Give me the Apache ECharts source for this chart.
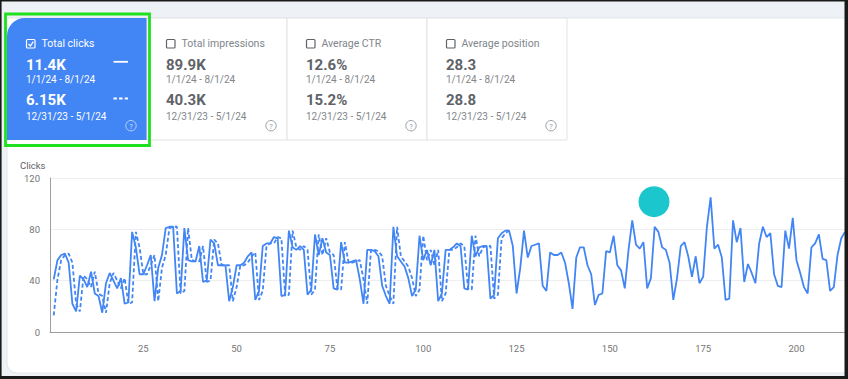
<!DOCTYPE html>
<html>
<head>
<meta charset="utf-8">
<script src="https://cdn.jsdelivr.net/npm/echarts@6/dist/echarts.min.js"></script>
<style>
html,body{margin:0;padding:0;background:#fff;}
#chart{width:848px;height:379px;}
</style>
</head>
<body>
<div id="chart"></div>
<script>
// ---- data ----
const metricNames = ['Total clicks', 'Total impressions', 'Average CTR', 'Average position'];
const currentValues = ['11.4K', '89.9K', '12.6%', '28.3'];
const previousValues = ['6.15K', '40.3K', '15.2%', '28.8'];
const currentRange = '1/1/24 - 8/1/24';
const previousRange = '12/31/23 - 5/1/24';
const yAxisName = 'Clicks';
const yTicks = [0, 40, 80, 120];
const xTicks = [25, 50, 75, 100, 125, 150, 175, 200];

// daily clicks, 1/1/24 - 8/1/24 (day 1..213)
const clicksCurrent = [
  41,56,60,61,54,22,16,44,41,35,
  47,30,28,15,38,46,40,34,42,22,
  23,78,66,45,45,52,60,24,50,60,
  81,82,82,30,32,81,56,55,55,67,
  39,40,72,69,52,52,52,24,35,52,
  52,54,59,62,25,32,67,69,69,74,
  73,28,29,79,66,64,67,64,29,33,
  76,60,73,62,60,34,33,70,54,54,
  55,56,41,22,64,64,63,59,36,28,
  22,82,59,55,51,42,28,33,75,56,
  64,52,64,24,30,64,64,66,69,67,
  34,33,75,59,66,67,67,26,29,73,
  77,79,79,67,30,50,79,58,67,68,
  69,36,32,62,60,60,62,54,38,18,
  58,66,66,52,45,21,29,30,63,62,
  75,52,48,34,64,87,68,65,70,34,
  42,82,78,66,64,54,25,42,67,70,
  59,43,59,38,43,82,105,65,68,58,
  25,26,87,70,81,39,53,46,38,69,
  82,74,77,45,36,35,79,65,89,56,
  46,35,30,66,69,76,57,56,32,35,
  60,73,78
];
// daily clicks, 12/31/23 - 5/1/24 (day 1..123)
const clicksPrevious = [
  13,41,56,60,61,54,22,16,44,41,
  35,47,30,28,15,38,46,40,34,42,
  22,23,78,66,45,45,52,60,24,50,
  60,81,82,82,30,32,81,56,55,55,
  67,39,40,72,69,52,52,52,24,35,
  52,52,54,59,62,25,32,67,69,69,
  74,73,28,29,79,66,64,67,64,29,
  33,76,60,73,62,60,34,33,70,54,
  54,55,56,41,22,64,64,63,59,36,
  28,22,82,59,55,51,42,28,33,75,
  56,64,52,64,24,30,64,64,66,69,
  67,34,33,75,59,66,67,67,26,29,
  73,77,79
];

// ---- build ----
const BLUE = '#4285f4';
const FONT = 'Roboto, "Noto Sans", sans-serif';
const g = [];

// page background
g.push({type:'rect', z:-20, silent:true, shape:{x:0,y:0,width:848,height:379}, style:{fill:'#eef2f7'}});
// main white card
g.push({type:'rect', z:-19, silent:true, shape:{x:7,y:18,width:860,height:355,r:[0,0,0,10]}, style:{fill:'#ffffff', stroke:'#e3e6ea', lineWidth:1}});

// metric cards
for (let i = 0; i < metricNames.length; i++) {
  const x0 = 7 + 140 * i;
  const sel = i === 0;
  if (sel) {
    g.push({type:'rect', z:-18, silent:true, shape:{x:x0,y:18,width:140,height:122,r:[18,0,0,0]}, style:{fill:BLUE}});
  } else {
    g.push({type:'rect', z:-18, silent:true, shape:{x:x0,y:18,width:140,height:122}, style:{fill:'#ffffff', stroke:'#e3e3e3', lineWidth:1}});
  }
  const cTitle = sel ? '#ffffff' : '#80868b';
  const cVal = sel ? '#ffffff' : '#5f6368';
  const cDate = sel ? '#ffffff' : '#80868b';
  // checkbox
  g.push({type:'rect', z:10, silent:true, shape:{x:x0+19.5,y:39.5,width:8.5,height:8.5,r:1}, style:{fill:'none', stroke: sel ? '#ffffff' : '#5f6368', lineWidth:1.2}});
  if (sel) {
    g.push({type:'polyline', z:10, silent:true, shape:{points:[[x0+21.5,44],[x0+23.4,46],[x0+26.3,41.6]]}, style:{fill:'none', stroke:'#ffffff', lineWidth:1.3}});
  }
  const t = (text, x, y, fill, font, align) => g.push({type:'text', z:10, silent:true, style:{text, x, y, fill, font, textAlign: align || 'left', textVerticalAlign:'middle', verticalAlign:'middle'}});
  t(metricNames[i], x0+34.5, 43, cTitle, '10.5px ' + FONT);
  t(currentValues[i], x0+19, 64.8, cVal, 'bold 15px ' + FONT);
  t(currentRange, x0+19, 79.8, cDate, '10px ' + FONT);
  t(previousValues[i], x0+19, 99.8, cVal, 'bold 15px ' + FONT);
  t(previousRange, x0+19, 116.5, cDate, '10px ' + FONT);
  // help icon
  g.push({type:'circle', z:10, silent:true, shape:{cx:x0+124, cy:125.7, r:5.2}, style:{fill:'none', stroke: sel ? 'rgba(255,255,255,0.6)' : '#9aa0a6', lineWidth:1}});
  t('?', x0+124, 126, sel ? 'rgba(255,255,255,0.7)' : '#9aa0a6', '7.5px ' + FONT, 'center');
  if (sel) {
    g.push({type:'line', z:10, silent:true, shape:{x1:x0+106.5,y1:61.8,x2:x0+121,y2:61.8}, style:{stroke:'#ffffff', lineWidth:1.8}});
    g.push({type:'line', z:10, silent:true, shape:{x1:x0+106.5,y1:98.5,x2:x0+121,y2:98.5}, style:{stroke:'#ffffff', lineWidth:1.8, lineDash:[3.4,2.2]}});
  }
}
// green highlight
g.push({type:'rect', z:20, silent:true, shape:{x:5.5,y:14,width:144,height:131.5}, style:{fill:'none', stroke:'#1fe01f', lineWidth:2.8}});

// y axis name
g.push({type:'text', z:10, silent:true, style:{text:yAxisName, x:20, y:165, fill:'#5f6368', font:'9.5px ' + FONT, textAlign:'left', textVerticalAlign:'middle', verticalAlign:'middle'}});

// teal marker
g.push({type:'circle', z:20, silent:true, shape:{cx:654, cy:201.7, r:15.5}, style:{fill:'#1bc7cc'}});

// outer black frame
g.push({type:'rect', z:50, silent:true, shape:{x:0,y:0,width:848,height:1.6}, style:{fill:'#1a1a1a'}});
g.push({type:'rect', z:50, silent:true, shape:{x:0,y:0,width:1.6,height:379}, style:{fill:'#1a1a1a'}});
g.push({type:'rect', z:50, silent:true, shape:{x:844.5,y:0,width:3.5,height:379}, style:{fill:'#1a1a1a'}});
g.push({type:'rect', z:50, silent:true, shape:{x:0,y:376,width:848,height:3}, style:{fill:'#1a1a1a'}});

const chart = echarts.init(document.getElementById('chart'), null, {renderer:'svg'});
chart.setOption({
  animation: false,
  backgroundColor: 'transparent',
  grid: {left: 50, right: 0, top: 178, bottom: 47, containLabel: false},
  xAxis: {
    type: 'value', min: 0, max: 213, interval: 25,
    axisLine: {show: true, lineStyle: {color: '#9e9e9e', width: 1}},
    axisTick: {show: false},
    splitLine: {show: false},
    axisLabel: {
      color: '#757575', fontSize: 9.5, fontFamily: FONT, margin: 11,
      formatter: v => xTicks.indexOf(v) >= 0 ? String(v) : ''
    }
  },
  yAxis: {
    type: 'value', min: yTicks[0], max: yTicks[yTicks.length-1], interval: 40,
    axisLine: {show: true, lineStyle: {color: '#9e9e9e', width: 1}},
    axisTick: {show: false},
    splitLine: {show: true, lineStyle: {color: '#eeeeee', width: 1}},
    axisLabel: {color: '#757575', fontSize: 9.5, fontFamily: FONT, margin: 10}
  },
  series: [
    {
      type: 'line', name: previousRange, z: 5,
      data: clicksPrevious.map((v, i) => [i + 1, v]),
      showSymbol: false, symbol: 'none',
      lineStyle: {color: BLUE, width: 1.8, type: [4, 2.5]}
    },
    {
      type: 'line', name: currentRange, z: 6,
      data: clicksCurrent.map((v, i) => [i + 1, v]),
      showSymbol: false, symbol: 'none',
      lineStyle: {color: BLUE, width: 1.8}
    }
  ],
  graphic: {elements: g}
});
</script>
</body>
</html>
